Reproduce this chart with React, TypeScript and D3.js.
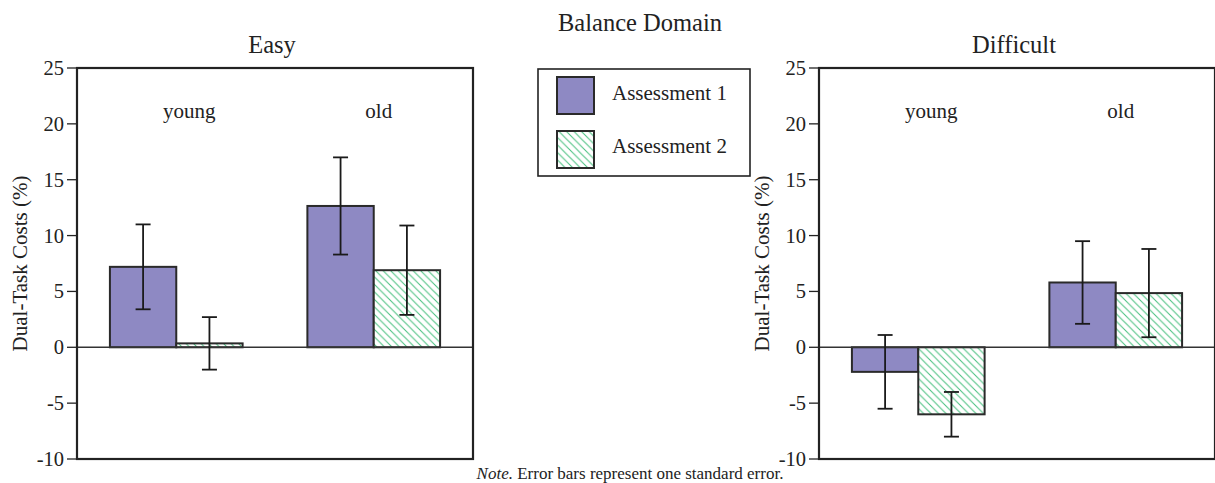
import React from "react";
import * as d3 from "d3";

// ---- data ----
const groups = ["young", "old"];
const seriesNames = ["Assessment 1", "Assessment 2"];
const panelTitles = ["Easy", "Difficult"];
const yTicks = [-10, -5, 0, 5, 10, 15, 20, 25];

const easyA1 = [7.2, 12.65];
const easyA1Se = [3.8, 4.35];
const easyA2 = [0.35, 6.9];
const easyA2Se = [2.35, 4.0];

const diffA1 = [-2.2, 5.8];
const diffA1Se = [3.3, 3.7];
const diffA2 = [-6.0, 4.85];
const diffA2Se = [2.0, 3.95];

// ---- layout ----
const W = 1215;
const H = 483;
const TOP = 68;
const BOTTOM = 459;
const PANEL_W = 396;
const PANEL_X = [77, 819];
const FONT = '"Liberation Serif", "Times New Roman", serif';
const INK = "#222";
const PURPLE = "#8e89c3";
const GREEN = "#46bf7e";
const LABEL_DX = [13, 5];

const panelData = [
  { a1: easyA1, a1se: easyA1Se, a2: easyA2, a2se: easyA2Se },
  { a1: diffA1, a1se: diffA1Se, a2: diffA2, a2se: diffA2Se },
];

const y = d3.scaleLinear().domain([-10, 25]).range([BOTTOM, TOP]);

function Panel({ idx }: { idx: number }) {
  const x0 = PANEL_X[idx];
  const d = panelData[idx];
  const xg = d3
    .scaleBand<string>()
    .domain(groups)
    .range([x0, x0 + PANEL_W])
    .paddingInner(0.328)
    .paddingOuter(0.1667);
  const xs = d3
    .scaleBand<string>()
    .domain(seriesNames)
    .range([0, xg.bandwidth()])
    .padding(0);
  const vals = [d.a1, d.a2];
  const ses = [d.a1se, d.a2se];
  const y0 = y(0);
  return (
    <g>
      {groups.map((g, gi) =>
        seriesNames.map((s, si) => {
          const v = vals[si][gi];
          const bx = (xg(g) as number) + (xs(s) as number);
          const bw = xs.bandwidth();
          const yTop = Math.min(y(v), y0);
          const h = Math.abs(y(v) - y0);
          return (
            <rect
              key={g + s}
              x={bx}
              y={yTop}
              width={bw}
              height={h}
              fill={si === 0 ? PURPLE : "url(#hatch)"}
              stroke="#2a2a2a"
              strokeWidth={2}
            />
          );
        })
      )}
      <line x1={x0} x2={x0 + PANEL_W} y1={y0} y2={y0} stroke="#333" strokeWidth={1.6} />
      {groups.map((g, gi) =>
        seriesNames.map((s, si) => {
          const v = vals[si][gi];
          const se = ses[si][gi];
          const cx = (xg(g) as number) + (xs(s) as number) + xs.bandwidth() / 2;
          const yh = y(v + se);
          const yl = y(v - se);
          return (
            <g key={"e" + g + s} stroke="#1a1a1a" strokeWidth={1.8}>
              <line x1={cx} x2={cx} y1={yh} y2={yl} />
              <line x1={cx - 7.5} x2={cx + 7.5} y1={yh} y2={yh} />
              <line x1={cx - 7.5} x2={cx + 7.5} y1={yl} y2={yl} />
            </g>
          );
        })
      )}
      <rect x={x0} y={TOP} width={PANEL_W} height={BOTTOM - TOP} fill="none" stroke={INK} strokeWidth={2.2} />
      {yTicks.map((t) => (
        <g key={t}>
          <line x1={x0 - 10} x2={x0} y1={y(t)} y2={y(t)} stroke={INK} strokeWidth={1.3} />
          <text
            x={x0 - 13}
            y={y(t)}
            textAnchor="end"
            dominantBaseline="central"
            fontSize={20.5}
            fontFamily={FONT}
            fill={INK}
          >
            {t}
          </text>
        </g>
      ))}
      {groups.map((g, gi) => (
        <text
          key={"l" + g}
          x={(xg(g) as number) + xg.bandwidth() / 2 + LABEL_DX[gi]}
          y={118}
          textAnchor="middle"
          fontSize={21}
          fontFamily={FONT}
          fill={INK}
        >
          {g}
        </text>
      ))}
      <text x={x0 + PANEL_W / 2 - 3} y={53} textAnchor="middle" fontSize={24.5} fontFamily={FONT} fill={INK}>
        {panelTitles[idx]}
      </text>
      <text
        transform={`translate(${x0 - 50},${(TOP + BOTTOM) / 2}) rotate(-90)`}
        textAnchor="middle"
        fontSize={21}
        fontFamily={FONT}
        fill={INK}
      >
        Dual-Task Costs (%)
      </text>
    </g>
  );
}

export default function App() {
  return (
    <svg
      width={W}
      height={H}
      viewBox={`0 0 ${W} ${H}`}
      style={{ position: "absolute", left: 0, top: 0, background: "#fff" }}
    >
      <defs>
        <pattern id="hatch" patternUnits="userSpaceOnUse" width={7.5} height={7.5}>
          <rect width={7.5} height={7.5} fill="#fff" />
          <path d="M0,0L7.5,7.5 M-1,6.5L1,8.5 M6.5,-1L8.5,1" stroke={GREEN} strokeWidth={1} />
        </pattern>
      </defs>
      <rect width={W} height={H} fill="#fff" />
      <text x={640} y={31} textAnchor="middle" fontSize={24.5} fontFamily={FONT} fill={INK}>
        Balance Domain
      </text>
      <Panel idx={0} />
      <Panel idx={1} />
      <g>
        <rect x={538} y={69} width={212} height={107} fill="#fff" stroke={INK} strokeWidth={1.6} />
        {seriesNames.map((s, i) => (
          <g key={s}>
            <rect
              x={557}
              y={77 + i * 54}
              width={37}
              height={37}
              fill={i === 0 ? PURPLE : "url(#hatch)"}
              stroke="#2a2a2a"
              strokeWidth={2}
            />
            <text x={612} y={100 + i * 53} fontSize={21} fontFamily={FONT} fill={INK}>
              {s}
            </text>
          </g>
        ))}
      </g>
      <text x={630} y={479} textAnchor="middle" fontSize={17} fontFamily={FONT} fill={INK}>
        <tspan fontStyle="italic">Note.</tspan> Error bars represent one standard error.
      </text>
    </svg>
  );
}
